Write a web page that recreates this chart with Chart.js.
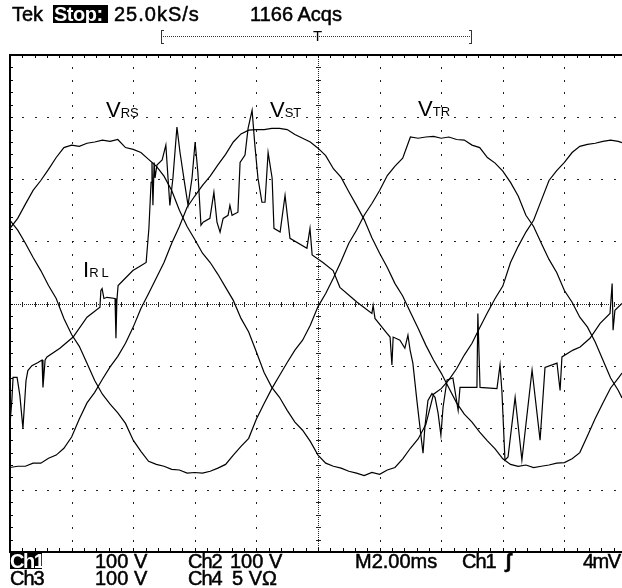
<!DOCTYPE html>
<html>
<head>
<meta charset="utf-8">
<title>Tek scope capture</title>
<script src="https://cdn.jsdelivr.net/npm/chart.js"></script>
<style>
  body { margin: 0; background: #fff; }
  #wrap { position: relative; width: 622px; height: 588px; overflow: hidden; }
  #scope { position: absolute; left: 0; top: 0; }
  .t { position: absolute; font-family: "Liberation Sans", Arial, sans-serif; font-size: 20px; line-height: 20px; color: #000; white-space: nowrap; -webkit-text-stroke: 0.5px #000; }
  .inv { color: #fff; -webkit-text-stroke: 0; font-weight: bold; }
  .box { position: absolute; background: #000; }
  .lbl { position: absolute; font-family: "Liberation Sans", Arial, sans-serif; font-size: 22px; line-height: 22px; color: #000; white-space: nowrap; }
  .lbl span { font-size: 13px; }
</style>
</head>
<body>
<div id="wrap">
  <canvas id="scope" width="622" height="588"></canvas>

  <!-- header -->
  <div class="t" style="left:12px; top:4px;">Tek</div>
  <div class="box" style="left:53px; top:5px; width:55px; height:18px;"></div>
  <div class="t inv" style="left:54px; top:4px; letter-spacing:-0.5px;">Stop:</div>
  <div class="t" style="left:114px; top:4px; letter-spacing:1px;">25.0kS/s</div>
  <div class="t" style="left:250px; top:4px;">1166 Acqs</div>
  <div class="t" style="left:313px; top:28px; font-size:15px; line-height:15px; -webkit-text-stroke:0;">T</div>

  <!-- trace labels -->
  <div class="lbl" style="left:106px; top:99px;">V<span>RS</span></div>
  <div class="lbl" style="left:270px; top:99px;">V<span>ST</span></div>
  <div class="lbl" style="left:418px; top:98px;">V<span>TR</span></div>
  <div class="lbl" style="left:83px; top:259px;">I<span style="letter-spacing:3px;">RL</span></div>

  <!-- footer -->
  <div class="box" style="left:10px; top:553px; width:32px; height:16px;"></div>
  <div class="t inv" style="left:10px; top:551px; letter-spacing:-1.5px;">Ch1</div>
  <div class="t" style="left:95px; top:551px;">100 V</div>
  <div class="t" style="left:188px; top:551px; letter-spacing:-1px;">Ch2</div>
  <div class="t" style="left:230px; top:551px;">100 V</div>
  <div class="t" style="left:355px; top:551px;">M2.00ms</div>
  <div class="t" style="left:462px; top:551px; letter-spacing:-1px;">Ch1</div>
  <div class="t" style="left:505px; top:551px; font-weight:bold;">ʃ</div>
  <div class="t" style="left:583px; top:551px; letter-spacing:-1.5px;">4mV</div>
  <div class="t" style="left:10px; top:568px; letter-spacing:-1px;">Ch3</div>
  <div class="t" style="left:95px; top:568px;">100 V</div>
  <div class="t" style="left:188px; top:568px; letter-spacing:-1px;">Ch4</div>
  <div class="t" style="left:232px; top:568px;">5 VΩ</div>
</div>

<script>
// scope settings
const MS_PER_DIV = 2;      // M2.00ms
const V_PER_DIV = 100;     // 100 V/div
const VIEW_MS = 19.87;     // right edge of the screenshot (graticule is slightly cropped)

// sample times for the three line voltages (ms)
const timeMs = [0, 0.25, 0.5, 0.75, 1, 1.25, 1.5, 1.75, 2, 2.25, 2.5, 2.75, 3, 3.25, 3.5, 3.75,
  4, 4.25, 4.5, 4.75, 5, 5.25, 5.5, 5.75, 6, 6.25, 6.5, 6.75, 7, 7.25, 7.5, 7.75,
  8, 8.25, 8.5, 8.75, 9, 9.25, 9.5, 9.75, 10, 10.25, 10.5, 10.75, 11, 11.25, 11.5, 11.75,
  12, 12.25, 12.5, 12.75, 13, 13.25, 13.5, 13.75, 14, 14.25, 14.5, 14.75, 15, 15.25, 15.5, 15.75,
  16, 16.25, 16.5, 16.75, 17, 17.25, 17.5, 17.75, 18, 18.25, 18.5, 18.75, 19, 19.25, 19.5, 19.75, 19.87];

// line voltages (V)
const vRS = [121, 137, 160, 182, 198, 216, 235, 251, 255, 253,
  258, 260, 263, 261, 264, 251, 248, 243, 232, 221,
  205, 182, 150, 124, 103, 81, 66, 47, 26, 5,
  -24, -46, -78, -111, -135, -151, -172, -191, -204, -222,
  -244, -257, -262, -265, -270, -273, -277, -272, -275, -268,
  -264, -250, -233, -218, -195, -146, -137, -123, -105, -83,
  -64, -39, -15, 8, 28, 66, 92, 115, 134, 166,
  198, 214, 227, 243, 253, 256, 258, 261, 263, 261, 259];

const vST = [-264, -262, -262, -257, -257, -249, -244, -233, -215, -186,
  -160, -143, -122, -102, -85, -64, -38, -8, 16, 41,
  66, 97, 124, 155, 173, 190, 205, 223, 240, 260,
  273, 279, 280, 280, 282, 282, 280, 272, 266, 260,
  250, 238, 217, 203, 180, 158, 135, 106, 81, 58,
  32, 12, -14, -40, -67, -91, -112, -136, -160, -178,
  -191, -207, -221, -234, -250, -259, -262, -260, -264, -262,
  -260, -257, -256, -250, -240, -213, -185, -160, -136, -120, -112];

const vTR = [134, 118, 97, 74, 53, 29, 8, -24, -50, -69,
  -96, -124, -146, -162, -176, -193, -220, -238, -254, -259,
  -262, -267, -268, -273, -272, -273, -270, -265, -259, -244,
  -230, -217, -186, -161, -137, -116, -95, -75, -59, -35,
  -5, 16, 41, 68, 97, 118, 142, 161, 182, 206,
  221, 234, 268, 266, 268, 269, 266, 268, 264, 263,
  255, 251, 235, 226, 213, 195, 173, 142, 124, 97,
  71, 50, 21, 2, -22, -38, -62, -91, -120, -140, -152];

// load current trace (screen units on the same 100/div grid), irregular samples
const iRLTime = [0, 0.06, 0.10, 0.23, 0.32, 0.42, 0.52, 0.58, 0.71, 0.91, 1.04, 1.07, 1.14, 1.20, 1.62,
  2.05, 2.50, 2.92, 2.95, 2.99, 3.05, 3.15, 3.41, 3.44, 3.47, 3.51, 3.67, 3.99, 4.22, 4.42,
  4.51, 4.58, 4.61, 4.64, 4.68, 4.71, 4.77, 4.94, 5.06, 5.13, 5.19, 5.29, 5.42, 5.52, 5.68,
  5.78, 5.91, 6.01, 6.10, 6.20, 6.27, 6.49, 6.62, 6.72, 6.82, 6.92, 7.08, 7.14, 7.21, 7.40,
  7.47, 7.63, 7.73, 7.86, 7.95, 8.05, 8.18, 8.28, 8.38, 8.51, 8.57, 8.77, 8.93, 9.09, 9.64,
  9.74, 9.81, 10.16, 10.49, 10.71, 11.27, 11.75, 11.79, 11.85, 12.24, 12.34, 12.40, 12.44, 12.66,
  12.82, 12.92, 12.99, 13.08, 13.21, 13.31, 13.41, 13.47, 13.57, 13.70, 13.80, 13.90, 13.99, 14.06,
  14.19, 14.38, 14.55, 14.61, 14.84, 15.16, 15.19, 15.26, 15.81, 15.91, 15.97, 16.07, 16.17, 16.40,
  16.62, 16.95, 17.21, 17.37, 17.76, 17.86, 17.92, 18.28, 18.51, 18.83, 19.16, 19.48, 19.55, 19.58,
  19.64, 19.87];

const iRL = [-194, -156, -119, -119, -148, -201, -124, -108, -100, -95, -91, -135, -91, -86, -72,
  -54, -22, -6, 21, 24, 8, 10, 8, -56, 5, 29, 37, 53, 60, 66,
  121, 195, 227, 158, 227, 202, 223, 231, 255, 202, 158, 202, 284, 243, 190,
  158, 202, 260, 211, 126, 131, 137, 179, 131, 115, 137, 142, 158, 142, 147,
  227, 239, 282, 311, 255, 202, 163, 163, 243, 202, 121, 115, 174, 105, 89,
  121, 78, 66, 53, 26, 2, -16, -3, -24, -48, -54, -99, -54, -59,
  -72, -51, -75, -96, -156, -199, -241, -199, -156, -145, -151, -177, -212, -167,
  -123, -120, -172, -135, -135, -135, -16, -135, -137, -99, -140, -252, -247, -151,
  -252, -107, -220, -103, -96, -140, -86, -75, -70, -56, -32, -16, 32, -43,
  -11, 0];

const pairs = (xs, ys) => xs.map((t, i) => ({ x: t, y: ys[i] }));

// graticule: dotted divisions, fine centre cross, ticked border
const graticule = {
  id: 'graticule',
  beforeDatasetsDraw(chart) {
    const { ctx, chartArea: a, scales: { x, y } } = chart;
    const minorMs = MS_PER_DIV / 5, minorV = V_PER_DIV / 5;
    const dot = (px, py, w, h) => ctx.fillRect(Math.round(px), Math.round(py), w, h);
    ctx.save();
    ctx.fillStyle = '#222';

    // vertical division lines
    for (let i = 1; i < 10; i++) {
      if (i === 5) continue;
      const px = x.getPixelForValue(i * MS_PER_DIV);
      for (let j = 1; j < 40; j++) dot(px, y.getPixelForValue(-4 * V_PER_DIV + j * minorV), 1, 2);
    }
    // horizontal division lines
    for (let i = -3; i <= 3; i++) {
      if (i === 0) continue;
      const py = y.getPixelForValue(i * V_PER_DIV);
      for (let j = 1; j <= 50; j++) {
        const px = x.getPixelForValue(j * minorMs);
        if (px > a.right) break;
        dot(px, py, 2, 1);
      }
    }

    // centre cross
    const cx = x.getPixelForValue(5 * MS_PER_DIV);
    const cy = y.getPixelForValue(0);
    for (let py = a.top; py < a.bottom; py += 2) dot(cx, py, 1, 1);
    for (let px = a.left; px < a.right; px += 2) dot(px, cy, 1, 1);
    for (let j = 1; j < 40; j++) dot(cx - 2, y.getPixelForValue(-4 * V_PER_DIV + j * minorV), 5, 1);
    for (let j = 1; j <= 50; j++) {
      const px = x.getPixelForValue(j * minorMs);
      if (px > a.right) break;
      dot(px, cy - 2, 1, 5);
    }

    // border and its ticks
    ctx.fillStyle = '#000';
    ctx.fillRect(a.left - 1, Math.round(a.top) - 1, a.right - a.left + 1, 2);
    ctx.fillRect(a.left - 1, Math.round(a.bottom) - 1, a.right - a.left + 1, 2);
    ctx.fillRect(a.left - 1, a.top - 1, 2, a.bottom - a.top + 1);
    for (let j = 1; j <= 50; j++) {
      const px = x.getPixelForValue(j * minorMs);
      if (px > a.right) break;
      dot(px, a.top, 1, 3);
      dot(px, a.bottom - 4, 1, 3);
    }
    for (let j = 1; j < 40; j++) dot(a.left, y.getPixelForValue(-4 * V_PER_DIV + j * minorV), 3, 1);

    // record-length bracket with trigger position above the screen
    ctx.fillStyle = '#333';
    for (let px = 163; px < 470; px += 2) ctx.fillRect(px, 36, 1, 1);
    ctx.fillRect(161, 30, 1, 14); ctx.fillRect(161, 30, 3, 1); ctx.fillRect(161, 43, 3, 1);
    ctx.fillRect(471, 30, 1, 14); ctx.fillRect(469, 30, 3, 1); ctx.fillRect(469, 43, 3, 1);
    ctx.restore();
  }
};

const line = (data) => ({ data, borderColor: '#000', borderWidth: 1.2, pointRadius: 0, tension: 0, fill: false });

new Chart(document.getElementById('scope'), {
  type: 'line',
  data: {
    datasets: [
      line(pairs(timeMs, vRS)),
      line(pairs(timeMs, vST)),
      line(pairs(timeMs, vTR)),
      line(pairs(iRLTime, iRL))
    ]
  },
  options: {
    responsive: false,
    animation: false,
    devicePixelRatio: 1,
    layout: { padding: { left: 10, top: 55, right: 0, bottom: 36 } },
    plugins: { legend: { display: false }, tooltip: { enabled: false } },
    scales: {
      x: { type: 'linear', min: 0, max: VIEW_MS, display: false },
      y: { min: -4 * V_PER_DIV, max: 4 * V_PER_DIV, display: false }
    }
  },
  plugins: [graticule]
});
</script>
</body>
</html>
